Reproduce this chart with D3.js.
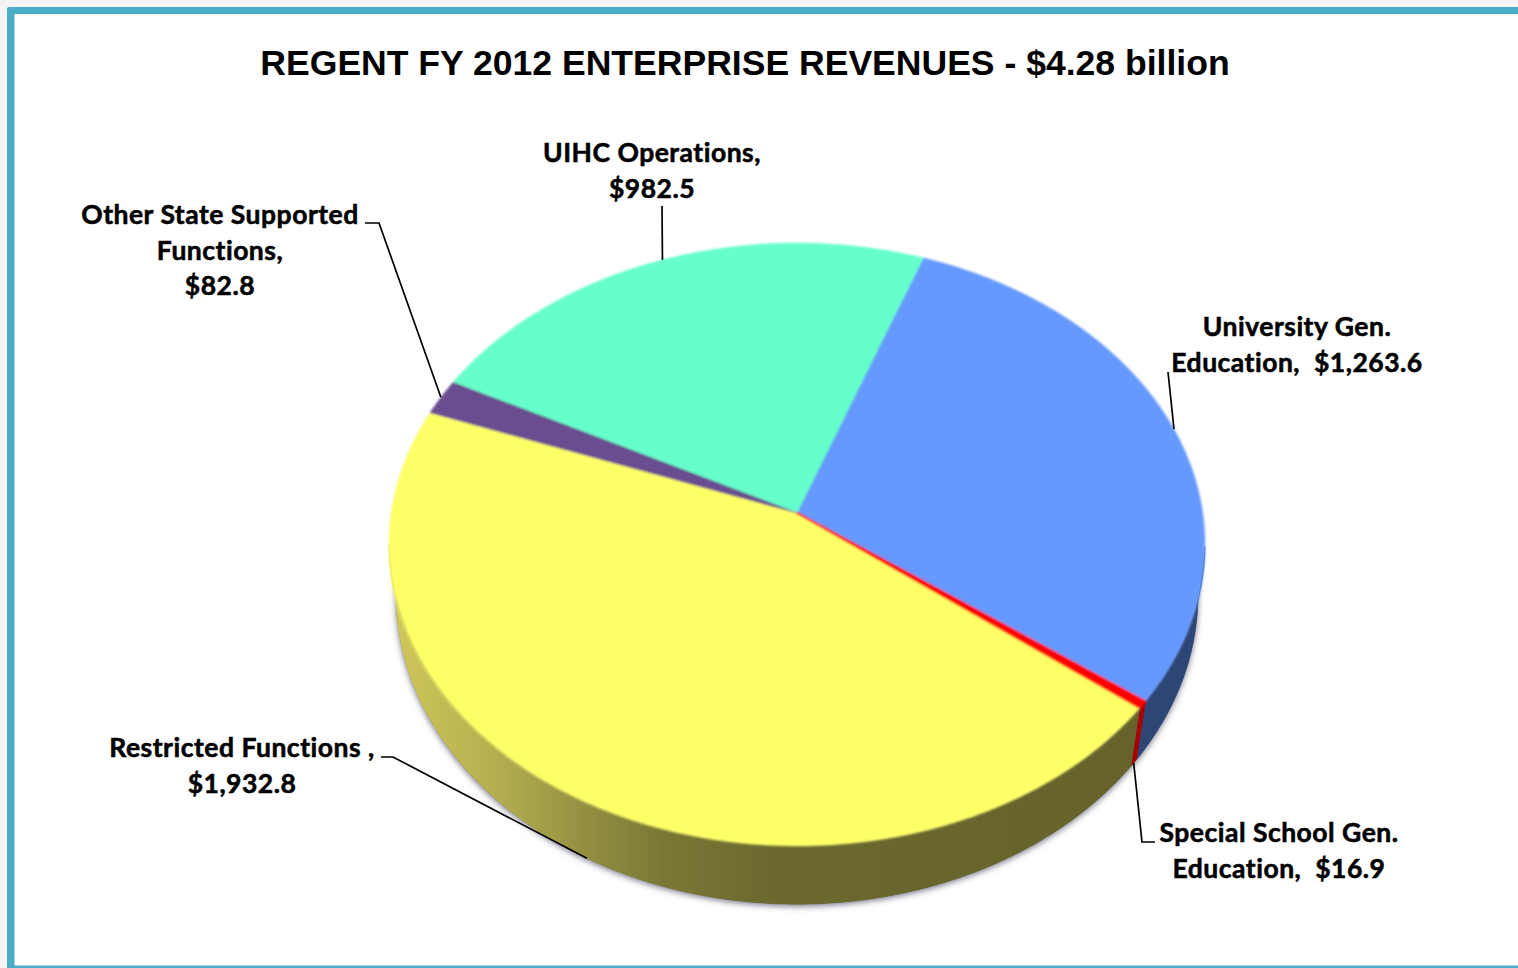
<!DOCTYPE html>
<html><head><meta charset="utf-8">
<script src="https://cdn.jsdelivr.net/npm/d3@7/dist/d3.min.js"></script>
<style>html,body{margin:0;padding:0;background:#f4f4f4;overflow:hidden}svg{display:block}</style>
</head><body><svg id="c" width="1518" height="968"></svg>
<script>
// ---- data, clockwise from the University slice ----
const categories = ["University Gen. Education","Special School Gen. Education","Restricted Functions","Other State Supported Functions","UIHC Operations"];
const values = [1263.6, 16.9, 1932.8, 82.8, 982.5];
const topColors = ["#6699ff","#ff0000","#ffff66","#6b4d91","#66ffcc"];
const sideColors = ["#2d4675","#a80000","url(#yellowSide)","#45315e","#3f9f80"];
const titleText = "REGENT FY 2012 ENTERPRISE REVENUES - $4.28 billion";
const labelLines = [
  ["University Gen.","Education,  $1,263.6"],
  ["Special School Gen.","Education,  $16.9"],
  ["Restricted Functions ,","$1,932.8"],
  ["Other State Supported","Functions,","$82.8"],
  ["UIHC Operations,","$982.5"]
];

// ---- layout ----
const W = 1518, H = 968;
const CX = 797;
const faceGeom  = {cy:513, k:0.1045, rx:405.8, ry:298.2};
const floorGeom = {cy:568, k:0.088,  rx:399.4, ry:306.6};
const labelLayout = [
  {x:1297, y:336, onFloor:false, via:[[1168,372]]},
  {x:1279, y:842, onFloor:true,  via:[[1142,842],[1155,842]]},
  {x:242,  y:757, onFloor:true,  via:[[393,757],[381,757]]},
  {x:220,  y:224, onFloor:false, via:[[379,223],[365,223]]},
  {x:652,  y:162, onFloor:false, via:[[662,206]]}
];
const LABEL_FONT = "Lato, Carlito, sans-serif", LABEL_SIZE = 26.5, LINE_H = 35.5;

const svg = d3.select("#c");
const defs = svg.append("defs");
const grad = defs.append("linearGradient").attr("id","yellowSide")
  .attr("gradientUnits","userSpaceOnUse").attr("x1",395).attr("x2",1140).attr("y1",0).attr("y2",0);
[[0,"#cfc75a"],[0.14,"#b3ad4f"],[0.27,"#8f8c40"],[0.36,"#7b7836"],[0.5,"#6b692e"],[1,"#65632b"]]
  .forEach(s=>grad.append("stop").attr("offset",s[0]).attr("stop-color",s[1]));
const sh = defs.append("filter").attr("id","shadow").attr("x","-5%").attr("y","-5%").attr("width","110%").attr("height","115%");
sh.append("feDropShadow").attr("dx",0).attr("dy",2).attr("stdDeviation",3).attr("flood-color","#55556a").attr("flood-opacity",0.8);
const soft = defs.append("filter").attr("id","soft").attr("x","-2%").attr("y","-2%").attr("width","104%").attr("height","104%");
soft.append("feGaussianBlur").attr("stdDeviation",0.9);

// frame
svg.append("rect").attr("x",7).attr("y",7).attr("width",W).attr("height",H).attr("rx",2).attr("fill","#4bacc6");
svg.append("rect").attr("x",14.5).attr("y",14).attr("width",W).attr("height",951.5).attr("fill","#ffffff");

// pie geometry
const pie = d3.pie().sort(null).startAngle(20*Math.PI/180).endAngle(380*Math.PI/180);
const arcs = pie(values);
const sx = d3.scaleLinear().domain([-1,1]).range([-1,1]);
const sy = d3.scaleLinear().domain([-1,1]).range([-1,1]);
function rim(a, floor){
  const g = floor ? floorGeom : faceGeom;
  const x = Math.sin(a), y = -Math.cos(a), d = 1 - g.k*y;
  return [CX + sx(x)*g.rx/d, g.cy + sy(y)*g.ry/d];
}
function samples(a0,a1){
  const n = Math.max(2, Math.ceil((a1-a0)/(Math.PI/360)));
  return d3.range(n+1).map(i=>a0+(a1-a0)*i/n);
}
const pathLine = d3.line();

// shadow cast by the floor of the disc
svg.append("path")
  .attr("d",pathLine(samples(0,2*Math.PI).map(a=>rim(a,true)))+"Z")
  .attr("fill","#666").attr("filter","url(#shadow)");

// sides: only the front of the rim is ever seen
const sidesG = svg.append("g");
arcs.forEach((d,i)=>{
  const s = samples(d.startAngle,d.endAngle).filter(a=>-Math.cos(a) > faceGeom.k);
  if (s.length < 2) return;
  const pts = s.map(a=>rim(a,false)).concat(s.slice().reverse().map(a=>rim(a,true)));
  sidesG.append("path").attr("d",pathLine(pts)+"Z").attr("fill",sideColors[i]).attr("stroke",sideColors[i]).attr("stroke-width",0.5);
});

// top face, smallest slices painted last so they stay visible
const topG = svg.append("g").attr("filter","url(#soft)");
arcs.map((d,i)=>({d,i})).sort((p,q)=>q.d.value-p.d.value).forEach(({d,i})=>{
  const pts = [[CX,faceGeom.cy]].concat(samples(d.startAngle,d.endAngle).map(a=>rim(a,false)));
  topG.append("path").attr("d",pathLine(pts)+"Z").attr("fill",topColors[i]).attr("stroke",topColors[i])
    .attr("stroke-width", d.value < 50 ? 2 : 0.4).attr("stroke-linejoin","round");
});

// leaders
arcs.forEach((d,i)=>{
  const L = labelLayout[i];
  const start = rim((d.startAngle+d.endAngle)/2, L.onFloor);
  svg.append("path").attr("d",pathLine([start].concat(L.via)))
    .attr("fill","none").attr("stroke","#000").attr("stroke-width",1.7);
});

// labels
labelLines.forEach((lines,i)=>{
  const L = labelLayout[i];
  const t = svg.append("text").attr("text-anchor","middle").attr("font-family",LABEL_FONT)
    .attr("font-weight",700).attr("font-size",LABEL_SIZE).attr("fill","#000")
    .attr("stroke","#000").attr("stroke-width",0.55)
    .attr("letter-spacing",0.5).style("white-space","pre");
  lines.forEach((s,j)=>t.append("tspan").attr("x",L.x).attr("y",L.y+j*LINE_H).text(s));
});

// title
svg.append("text").attr("x",745).attr("y",75).attr("text-anchor","middle")
  .attr("font-family","'Liberation Sans', Arial, sans-serif").attr("font-weight",700)
  .attr("font-size",35.55).attr("fill","#000").text(titleText);
</script></body></html>
